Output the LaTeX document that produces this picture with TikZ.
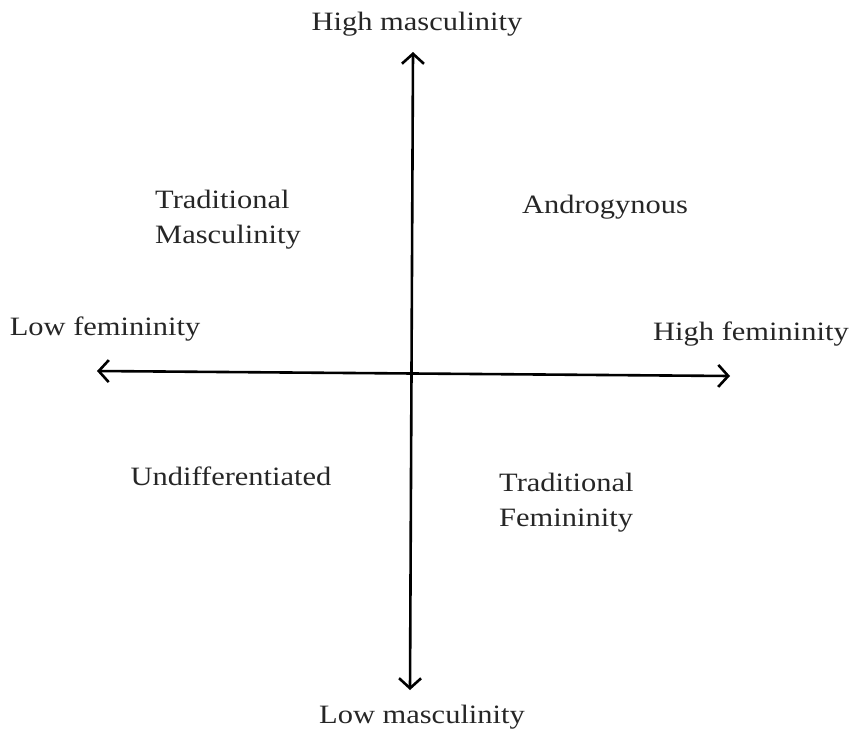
\documentclass[tikz,border=0pt]{standalone}
\usepackage{fontspec}
\setmainfont[FakeStretch=1.15]{Liberation Serif}
\usetikzlibrary{arrows.meta}
\begin{document}
\begin{tikzpicture}[x=1pt,y=-1pt,
  axis/.style={line width=2.6pt,{Straight Barb[length=10pt,width=22pt,line width=2.6pt]}-{Straight Barb[length=10pt,width=22pt,line width=2.6pt]}},
  lbl/.style={font=\fontsize{26.5}{35}\selectfont,inner sep=0pt,text=black!85},
  quad/.style={lbl,align=left}]
\useasboundingbox (0,0) rectangle (851,734);
% axis end points
\coordinate (top) at (413,52);
\coordinate (bottom) at (410,690);
\coordinate (left) at (97,371);
\coordinate (right) at (730,376);
\draw[axis] (bottom) -- (top);
\draw[axis] (left) -- (right);
% axis labels
\node[lbl] (hm) at (417,24) {High masculinity};
\node[lbl] (lm) at (422,717) {Low masculinity};
\node[lbl] (lf) at (105,329) {Low femininity};
\node[lbl] (hf) at (751,334) {High femininity};
% quadrant labels
\node[quad,anchor=west] (tm) at (155,220) {Traditional\\Masculinity};
\node[lbl] (an) at (605,207) {Androgynous};
\node[lbl] (un) at (231,476) {Undifferentiated};
\node[quad,anchor=west] (tf) at (499,503) {Traditional\\Femininity};
\end{tikzpicture}
\end{document}
